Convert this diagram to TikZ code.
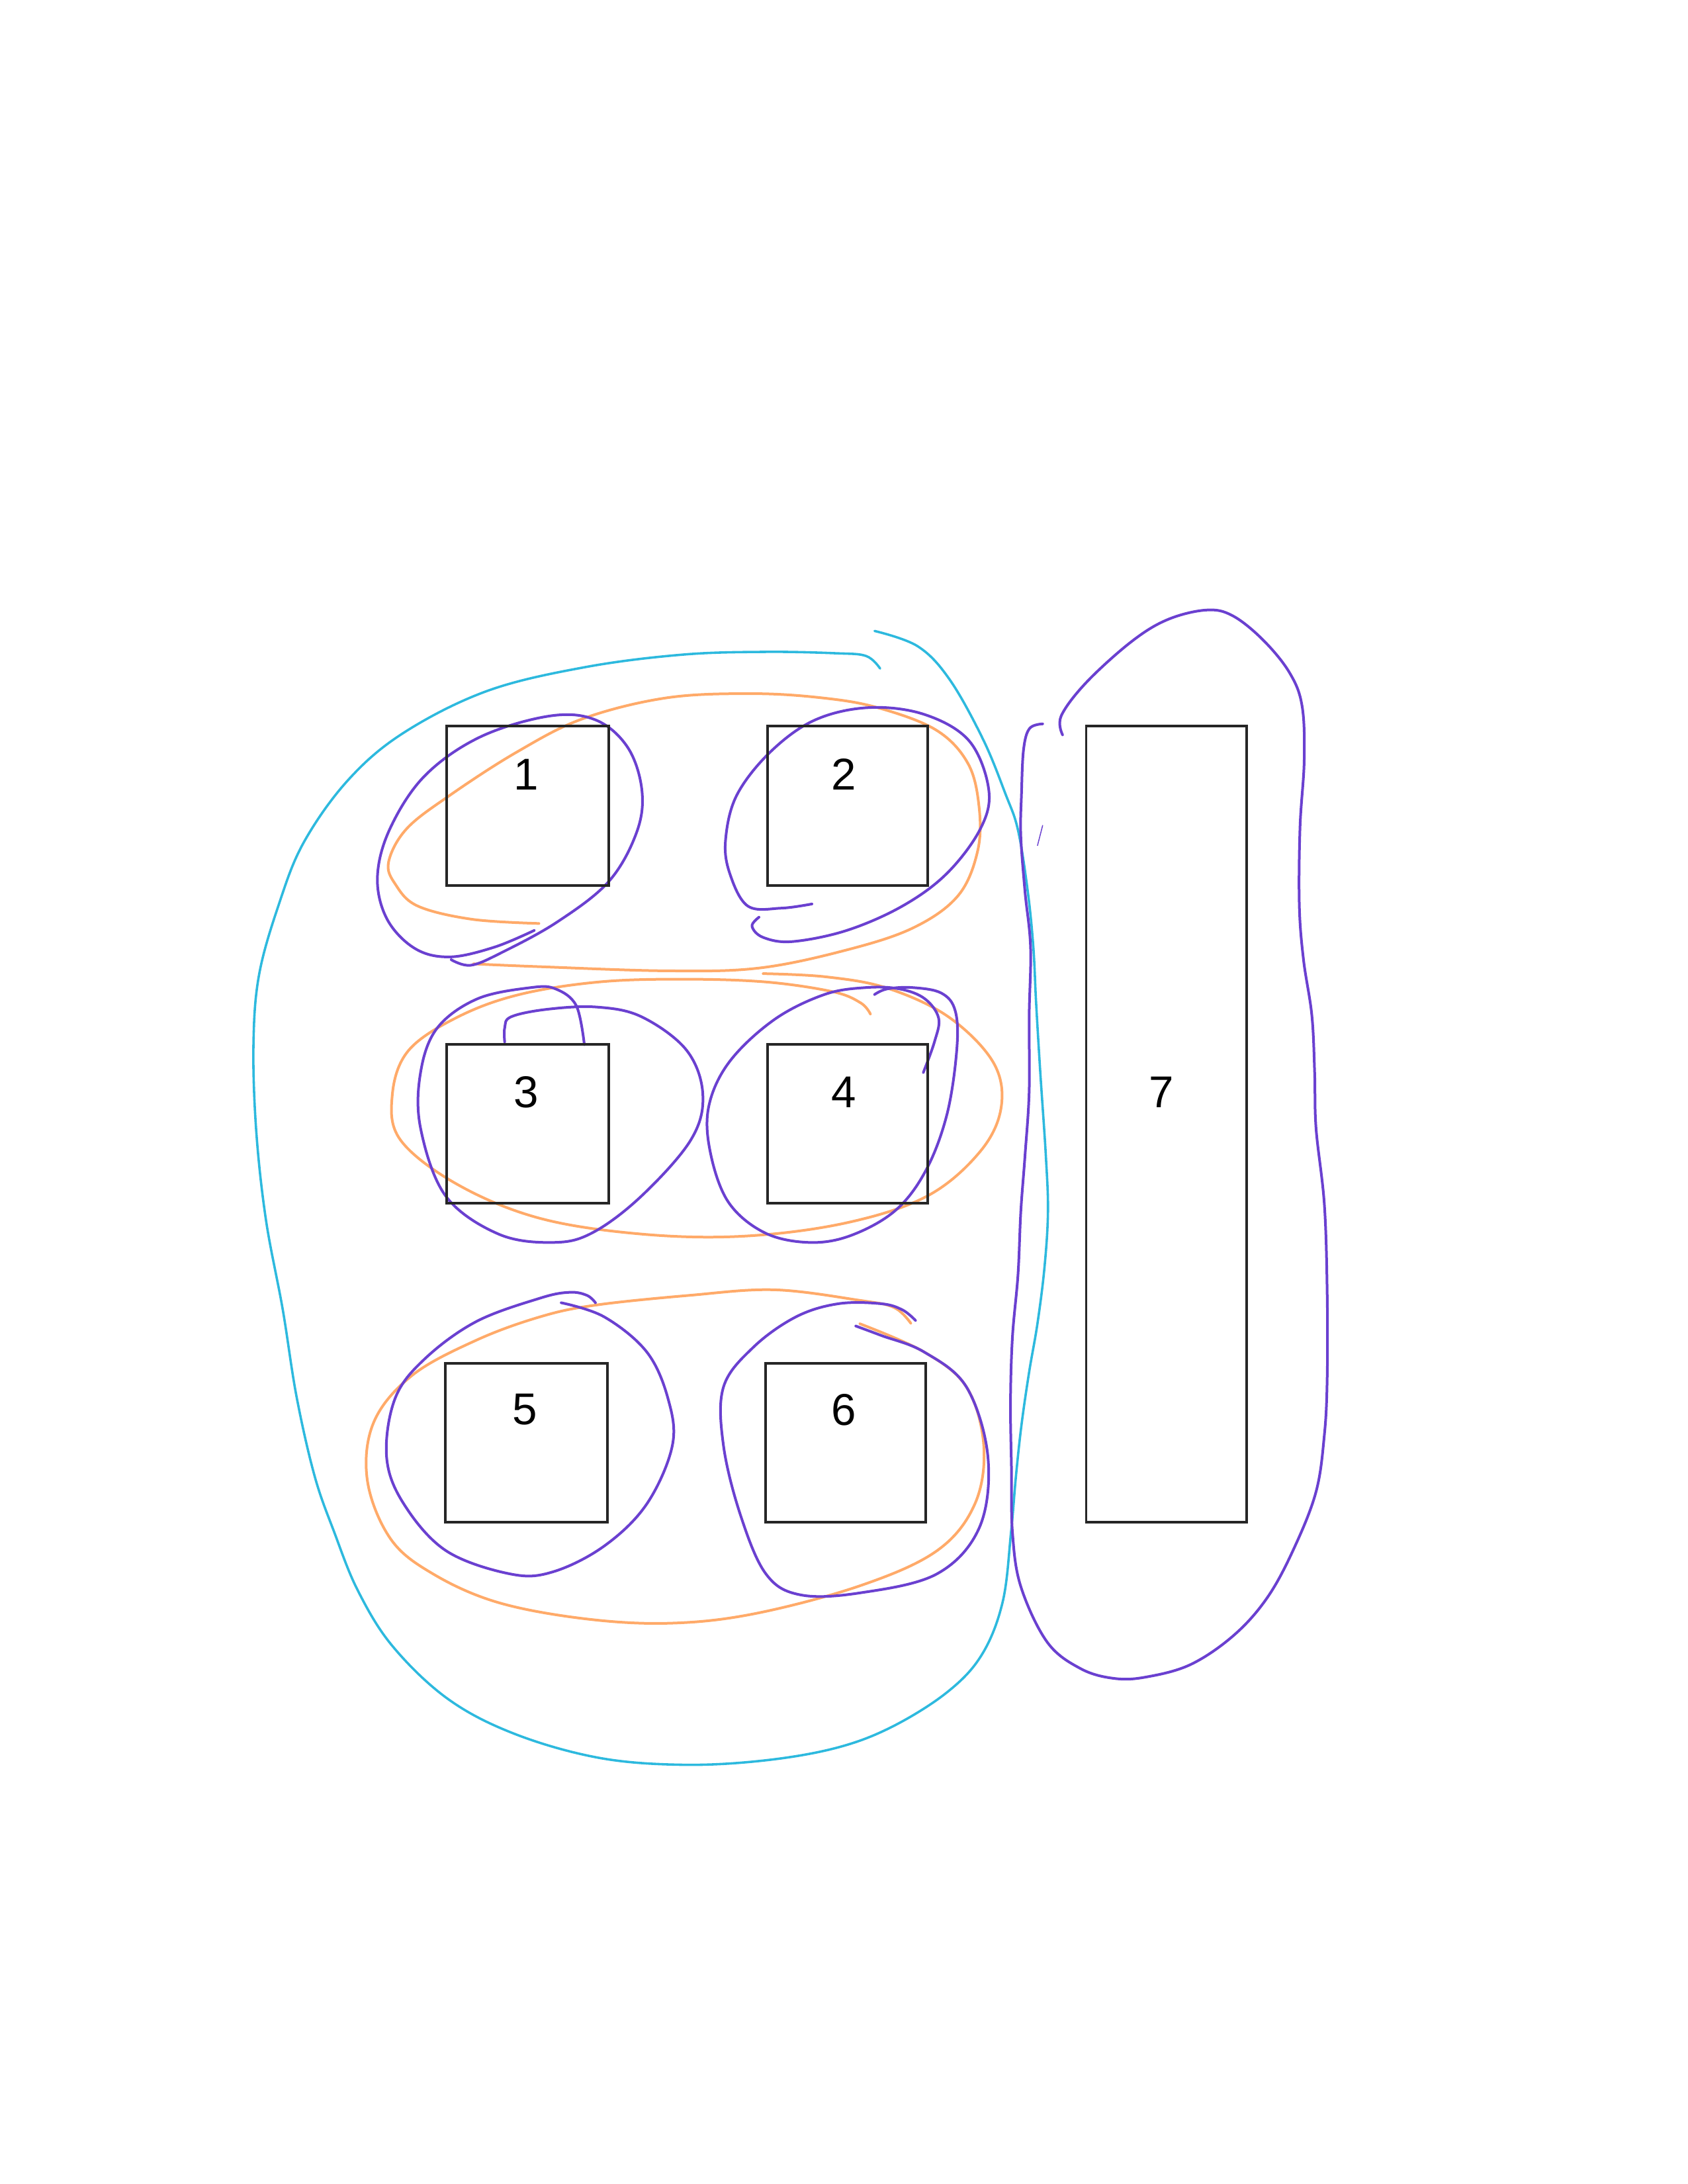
\documentclass[tikz,border=0pt]{standalone}
\usepackage{fontspec}
\setmainfont{Liberation Sans}
\definecolor{pen purple}{RGB}{106,64,208}
\definecolor{pen orange}{RGB}{255,170,105}
\definecolor{pen cyan}{RGB}{45,185,222}
\begin{document}
\begin{tikzpicture}[x=1pt,y=-1pt,
  sqbox/.style={draw=black!85, line width=1.9pt, rectangle, inner sep=0pt, anchor=north west},
  numlabel/.style={font=\fontsize{32}{36}\selectfont, inner sep=0pt},
  purpleline/.style={draw=pen purple, line width=1.9pt, line cap=round, line join=round},
  orangeline/.style={draw=pen orange, line width=1.9pt, line cap=round, line join=round},
  cyanline/.style={draw=pen cyan, line width=1.7pt, line cap=round, line join=round}]
\path[fill=white, use as bounding box] (0,0) rectangle (1212,1568);

% ---- hand-drawn groupings (behind boxes) ----
% cyan big loop around 1-6
\draw[cyanline] plot[smooth, tension=0.6] coordinates {
 (628,453) (659,464) (682,488) (706,531) (722,570) (731,596) (738,640) (742,680)
 (744,720) (747,770) (751,830) (752.5,870) (750,910) (745,950) (739,985) (733.5,1023)
 (729.5,1060) (726,1100) (720,1150) (705,1188) (680,1215) (640,1240) (600,1255)
 (548,1264) (490,1267) (430,1262) (370,1245) (322,1220) (282,1182) (257,1142)
 (240,1100) (226,1060) (213,1003) (203,940) (191,876) (184,812) (182,750) (186,700)
 (200,650) (218,605) (250,560) (290,526) (350,496) (420,479) (490,470) (550,468)
 (600,469) (622,471) (632,480)};

% orange row loops
\draw[orangeline] plot[smooth, tension=0.6] coordinates {
 (387,663) (339,660) (300,650.5) (284,635) (279,619) (292,595) (323,571) (371,540)
 (418.5,516) (478.7,501) (540,498) (590,501) (630,508) (672,524) (695,548) (703,579)
 (702,611) (688,643) (656,666) (608,682) (545,695) (479,697) (387,694) (340,692)};
\draw[orangeline] plot[smooth, tension=0.6] coordinates {
 (625,728) (618,720) (598,712) (550,705) (490,703) (430,705) (373,714) (329,730)
 (293.5,754) (281.7,786) (287.6,818.5) (328.7,850.5) (387.4,874.6) (460.7,886)
 (534,887.5) (607.4,878) (666,858.6) (704,826.5) (719,794.4) (713,762.3) (681,730)
 (637,709.4) (593,701.3) (548,699)};
\draw[orangeline] plot[smooth, tension=0.6] coordinates {
 (617.5,950.4) (663.5,970.6) (694,995.8) (706.4,1037.8) (700,1079.8) (672.7,1113.4)
 (617.5,1138.5) (541,1158.7) (479.7,1165.4) (418.5,1162) (357,1150.3) (311,1130)
 (280.6,1105) (263.8,1063) (268.4,1021) (296,987.4) (342,962.2) (387.8,945.4)
 (427.6,937) (495,930) (556,926) (617.5,933.6) (642,938.7) (654,950)};

% purple loops around each box
\draw[purpleline] plot[smooth, tension=0.6] coordinates {
 (383.6,668) (355,680) (323,687) (298,681) (278,660) (271,630) (280,595) (305,557)
 (345,529) (395,514) (428,517) (451,537) (461,568) (457,598) (437,633) (400,662)
 (360,684) (338,693) (324,689)};
\draw[purpleline] plot[smooth, tension=0.6] coordinates {
 (583,649) (561,652) (537,650.5) (524,627) (521,603) (529,571) (553,540) (585,517)
 (624,508) (664,513) (696,532) (710,567) (704,595) (680,627) (648,650.5) (608,668)
 (569,676) (548,673) (540,665) (545,658.5)};
\draw[purpleline] plot[smooth, tension=0.6] coordinates {
 (362.4,748) (362.4,738) (367,730) (393,724.6) (428.5,723) (460.7,730) (493,754)
 (504.7,786) (496,818.5) (460.7,858.6) (425.5,885) (397,892) (358,886) (320,858.6)
 (302,810) (302,770) (314,738) (343,717) (381.5,709) (399,710) (413.8,722) (419.6,750)};
\draw[purpleline] plot[smooth, tension=0.6] coordinates {
 (628,714) (637,710) (655,709) (676,713) (686,726) (687,754) (680,800) (665,840)
 (643,869) (611,887) (581,892) (549,885) (523,863) (510,827) (509,794) (524,762)
 (556,732) (592,714) (622,709) (646,710) (664,717) (674,731) (671,748) (663,770)};
\draw[purpleline] plot[smooth, tension=0.6] coordinates {
 (427.6,935.3) (421.5,930) (409,927.8) (387.8,932) (342,948.8) (305,975.6)
 (283.7,1004) (277.6,1046) (290,1079.8) (320.4,1113.4) (366.4,1130) (397,1128.5)
 (433.8,1110) (464.4,1079.8) (482.8,1037.8) (479.7,1004.2) (464.4,970.6)
 (433.8,945.4) (403,935.3)};
\draw[purpleline] plot[smooth, tension=0.6] coordinates {
 (657.4,948) (648,940.4) (632.8,936) (602,936) (571.6,945.4) (541,967.2)
 (519.5,995.8) (519.5,1037.8) (531.8,1088) (550,1130) (574.7,1145) (617.5,1143.6)
 (672.7,1130) (703.3,1096.6) (709.4,1046) (694,995.8) (663.5,970.6) (632.8,958.8)
 (614.5,952)};

% purple loop around 7
\draw[purpleline] plot[smooth, tension=0.6] coordinates {
 (748.7,519.7) (739.3,523) (735,538) (733.5,570) (733,600) (736,640) (740,680)
 (739,730) (739,784) (736,830) (733,870) (731,915) (727,960) (725.6,1007)
 (726.3,1055) (727,1100) (733,1139) (752,1179) (776,1198) (800,1205) (823,1204)
 (855,1195) (886,1174) (910,1147) (929,1112) (945,1071) (951,1030) (953,990)
 (953,928) (951,865) (945,810) (944,770) (942,729) (936,689) (933,650) (933.5,594)
 (936.5,546) (935,507) (926,483) (907,459.5) (885,442) (866,438) (838,445)
 (812,461) (780,490) (762,514) (763,527.6)};
\draw[draw=pen purple, line width=0.7pt, line cap=round] (748.7,592.6) -- (745,607);

% ---- boxes ----
\node[sqbox, minimum width=116pt, minimum height=114.5pt] (b1) at (320,520.5) {};
\node[sqbox, minimum width=115pt, minimum height=114.5pt] (b2) at (550,520.5) {};
\node[sqbox, minimum width=116pt, minimum height=114pt] (b3) at (320,749) {};
\node[sqbox, minimum width=115pt, minimum height=114pt] (b4) at (550,749) {};
\node[sqbox, minimum width=116pt, minimum height=114pt] (b5) at (319,978) {};
\node[sqbox, minimum width=115pt, minimum height=114pt] (b6) at (549,978) {};
\node[sqbox, minimum width=115pt, minimum height=571.5pt] (b7) at (779,520.5) {};

\node[numlabel] (l1) at (378,556) {1};
\node[numlabel] (l2) at (606,556) {2};
\node[numlabel] (l3) at (378,784) {3};
\node[numlabel] (l4) at (606,784) {4};
\node[numlabel] (l5) at (377,1012) {5};
\node[numlabel] (l6) at (606,1012) {6};
\node[numlabel] (l7) at (834,784) {7};
\end{tikzpicture}
\end{document}
